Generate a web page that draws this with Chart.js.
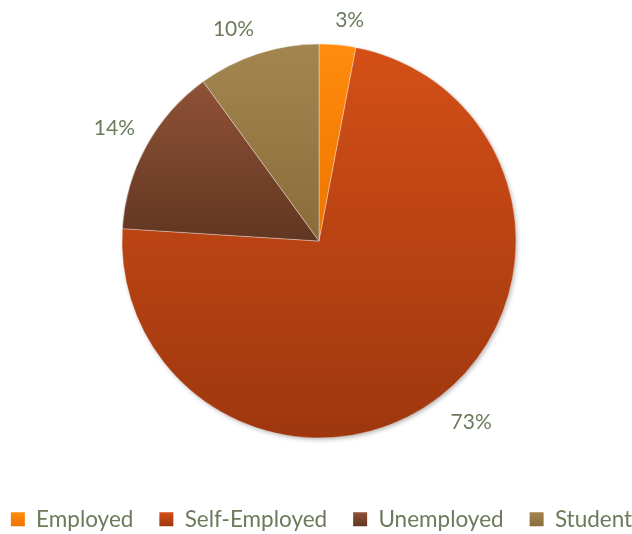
<!DOCTYPE html>
<html>
<head>
<meta charset="utf-8">
<script src="https://cdn.jsdelivr.net/npm/chart.js@4.4.1/dist/chart.umd.min.js"></script>
<style>
  html, body { margin: 0; padding: 0; background: #fff; overflow: hidden; }
  #wrap { width: 638px; height: 534px; }
</style>
</head>
<body>
<div id="wrap"><canvas id="pie"></canvas></div>
<script>
var categories = ["Employed", "Self-Employed", "Unemployed", "Student"];
var shares = [3, 73, 14, 10];
var topColors = ["#FF8C0C", "#D44F17", "#8F5237", "#A3864F"];
var bottomColors = ["#EE7400", "#9E370E", "#623621", "#8A6C3B"];

var textColor = "#6B7B5B";
var fontFamily = "Lato, 'Open Sans', sans-serif";
var pieRadius = 197;
var legendBox = 14;

// vertical extent of one slice, used for its gradient
function sliceGradient(context) {
  var chart = context.chart;
  var area = chart.chartArea;
  var i = context.dataIndex;
  if (!area || i === undefined) return topColors[i || 0];
  var cx = (area.left + area.right) / 2;
  var cy = (area.top + area.bottom) / 2;
  var total = 0, before = 0;
  for (var k = 0; k < shares.length; k++) {
    total += shares[k];
    if (k < i) before += shares[k];
  }
  var a0 = -Math.PI / 2 + 2 * Math.PI * before / total;
  var a1 = a0 + 2 * Math.PI * shares[i] / total;
  var ys = [cy, cy + pieRadius * Math.sin(a0), cy + pieRadius * Math.sin(a1)];
  if (a0 <= -Math.PI / 2 + 1e-6) ys.push(cy - pieRadius);
  if (a0 <= Math.PI / 2 && a1 >= Math.PI / 2) ys.push(cy + pieRadius);
  if (a0 <= 3 * Math.PI / 2 && a1 >= 3 * Math.PI / 2) ys.push(cy - pieRadius);
  var y0 = Math.min.apply(null, ys), y1 = Math.max.apply(null, ys);
  var g = chart.ctx.createLinearGradient(0, y0, 0, y1);
  g.addColorStop(0, topColors[i]);
  g.addColorStop(1, bottomColors[i]);
  return g;
}

// soft shadow under the whole pie
var pieShadow = {
  id: "pieShadow",
  beforeDatasetsDraw: function(chart) {
    var arc = chart.getDatasetMeta(0).data[0];
    if (!arc) return;
    var ctx = chart.ctx;
    ctx.save();
    ctx.shadowColor = "rgba(0,0,0,0.35)";
    ctx.shadowBlur = 5;
    ctx.shadowOffsetX = 1.5;
    ctx.shadowOffsetY = 2;
    ctx.fillStyle = "#fff";
    ctx.beginPath();
    ctx.arc(arc.x, arc.y, arc.outerRadius - 1, 0, 2 * Math.PI);
    ctx.fill();
    ctx.restore();
  }
};

// legend swatches get their own small gradient
var legendSwatches = {
  id: "legendSwatches",
  beforeDraw: function(chart) {
    var lg = chart.legend;
    if (!lg || !lg.legendItems || !lg.legendHitBoxes) return;
    for (var i = 0; i < lg.legendItems.length; i++) {
      var hb = lg.legendHitBoxes[i];
      var y0 = hb.top + (hb.height - legendBox) / 2;
      var g = chart.ctx.createLinearGradient(0, y0, 0, y0 + legendBox);
      g.addColorStop(0, topColors[i]);
      g.addColorStop(1, bottomColors[i]);
      lg.legendItems[i].fillStyle = g;
      lg.legendItems[i].lineWidth = 0;
    }
  }
};

function clamp1(v) {
  return Math.max(-1, Math.min(1, v));
}

// percentage labels outside each slice, box corner kept off the rim
var outerLabels = {
  id: "outerLabels",
  afterDatasetsDraw: function(chart) {
    var ctx = chart.ctx;
    var arcs = chart.getDatasetMeta(0).data;
    ctx.save();
    ctx.fillStyle = textColor;
    ctx.font = "21px " + fontFamily;
    ctx.textAlign = "center";
    ctx.textBaseline = "middle";
    for (var i = 0; i < arcs.length; i++) {
      var a = arcs[i];
      var txt = shares[i] + "%";
      var halfW = ctx.measureText(txt).width / 2;
      var mid = (a.startAngle + a.endAngle) / 2;
      var dx = Math.cos(mid), dy = Math.sin(mid);
      var d = a.outerRadius + 13 + 6 * Math.max(0, dy);
      var x = a.x + dx * d + halfW * clamp1(dx * 8);
      var y = a.y + dy * d + 12 * clamp1(dy * 4);
      ctx.fillText(txt, x, y);
    }
    ctx.restore();
  }
};

var ctx = document.getElementById("pie").getContext("2d");
var chart = new Chart(ctx, {
  type: "pie",
  data: {
    labels: categories,
    datasets: [{
      data: shares,
      backgroundColor: sliceGradient,
      borderColor: "rgba(255,255,255,0.45)",
      borderWidth: 0.75,
      radius: pieRadius
    }]
  },
  options: {
    responsive: true,
    maintainAspectRatio: false,
    animation: false,
    layout: { padding: { top: 0, left: -19, right: -24, bottom: -6.5 } },
    plugins: {
      tooltip: { enabled: false },
      legend: {
        position: "bottom",
        labels: {
          boxWidth: legendBox,
          boxHeight: legendBox,
          padding: 26,
          color: textColor,
          font: { family: fontFamily, size: 22.5 }
        }
      }
    }
  },
  plugins: [pieShadow, legendSwatches, outerLabels]
});
</script>
</body>
</html>
